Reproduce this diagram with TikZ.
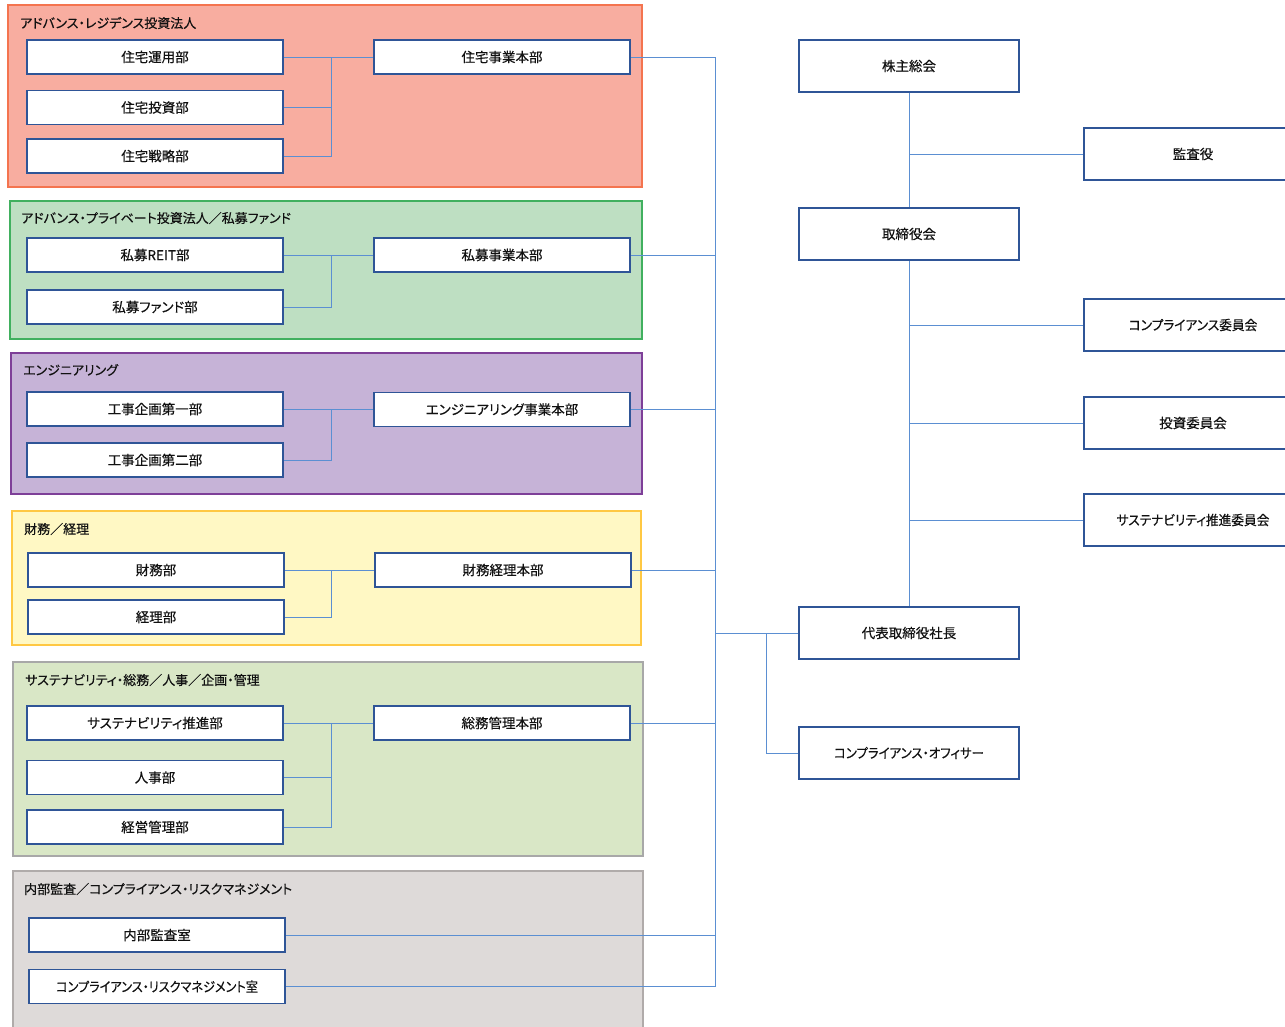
\documentclass[tikz,border=0pt]{standalone}
\usepackage{fontspec}
\setmainfont{Noto Sans CJK JP}[RawFeature={+palt}, FakeBold=0.35]
\definecolor{txt}{HTML}{111111}
\definecolor{bxline}{HTML}{2F5597}
\definecolor{conn}{HTML}{5B8FD2}
\definecolor{redF}{HTML}{F8ADA0}\definecolor{redD}{HTML}{F4744F}
\definecolor{grnF}{HTML}{BEDFC2}\definecolor{grnD}{HTML}{41B05F}
\definecolor{purF}{HTML}{C6B3D7}\definecolor{purD}{HTML}{7E3F98}
\definecolor{yelF}{HTML}{FFF8C4}\definecolor{yelD}{HTML}{FFC843}
\definecolor{lgrF}{HTML}{D9E7C6}\definecolor{lgrD}{HTML}{A8A8A8}
\definecolor{gryF}{HTML}{DEDAD9}\definecolor{gryD}{HTML}{B0ABAA}
\tikzset{
  ubox/.style={draw=bxline, line width=1.6pt, fill=white, inner sep=0pt,
    minimum width=256pt, minimum height=34pt, font=\fontsize{13.5}{15}\selectfont, text=txt},
  rbox/.style={draw=bxline, line width=1.6pt, fill=white, inner sep=0pt,
    minimum width=220pt, minimum height=52pt, font=\fontsize{13.5}{15}\selectfont, text=txt},
  kbox/.style={rbox, minimum width=218pt},
  grp/.style={line width=1.5pt},
  gtitle/.style={anchor=west, inner sep=0pt, font=\fontsize{13}{15}\selectfont, text=txt},
  cline/.style={draw=conn, line width=1pt},
}
\begin{document}
\begin{tikzpicture}[x=1pt,y=-1pt]
\useasboundingbox (0,0) rectangle (1285,1026);
\fill[white] (0,0) rectangle (1285,1026);
% group backgrounds
\draw[grp, fill=redF, draw=redD] (8,5) rectangle (642,187);
\draw[grp, fill=grnF, draw=grnD] (10,201) rectangle (642,339);
\draw[grp, fill=purF, draw=purD] (11,353) rectangle (642,494);
\draw[grp, fill=yelF, draw=yelD] (12,511) rectangle (641,645);
\draw[grp, fill=lgrF, draw=lgrD] (13,662) rectangle (643,856);
\draw[grp, fill=gryF, draw=gryD] (13,871) rectangle (643,1040);
% titles
\node[gtitle] (g1) at (20,23) {アドバンス・レジデンス投資法人};
\node[gtitle] (g2) at (21,218) {アドバンス・プライベート投資法人／私募ファンド};
\node[gtitle] (g3) at (23,370) {エンジニアリング};
\node[gtitle] (g4) at (24,529) {財務／経理};
\node[gtitle] (g5) at (25,680) {サステナビリティ・総務／人事／企画・管理};
\node[gtitle] (g6) at (24,889) {内部監査／コンプライアンス・リスクマネジメント};
% trunk coordinates
\coordinate (trunk) at (715,0);
\coordinate (bx) at (331,0);
\coordinate (cob) at (766,0);
% group 1
\node[ubox] (a1) at (155,57) {住宅運用部};
\node[ubox] (a2) at (155,107.5) {住宅投資部};
\node[ubox] (a3) at (155,156) {住宅戦略部};
\node[ubox] (ah) at (502,57) {住宅事業本部};
% group 2
\node[ubox] (b1) at (155,255) {私募REIT部};
\node[ubox] (b2) at (155,307) {私募ファンド部};
\node[ubox] (bh) at (502,255) {私募事業本部};
% group 3
\node[ubox] (c1) at (155,409) {工事企画第一部};
\node[ubox] (c2) at (155,460) {工事企画第二部};
\node[ubox] (ch) at (502,409.5) {エンジニアリング事業本部};
% group 4
\node[ubox] (d1) at (156,570) {財務部};
\node[ubox] (d2) at (156,617) {経理部};
\node[ubox] (dh) at (503,570) {財務経理本部};
% group 5
\node[ubox] (e1) at (155,723) {サステナビリティ推進部};
\node[ubox] (e2) at (155,777.5) {人事部};
\node[ubox] (e3) at (155,827) {経営管理部};
\node[ubox] (eh) at (502,723) {総務管理本部};
% group 6
\node[ubox] (f1) at (157,935) {内部監査室};
\node[ubox] (f2) at (157,986.5) {\addfontfeature{FakeStretch=0.9}コンプライアンス・リスクマネジメント室};
% right column
\node[rbox] (gm) at (909,66) {株主総会};
\node[rbox] (bd) at (909,234) {取締役会};
\node[rbox] (ceo) at (909,633) {代表取締役社長};
\node[rbox] (co) at (909,753) {\addfontfeature{FakeStretch=0.92}コンプライアンス・オフィサー};
\node[kbox] (ks) at (1193,154) {監査役};
\node[kbox] (k1) at (1193,325) {\addfontfeature{FakeStretch=0.94}コンプライアンス委員会};
\node[kbox] (k2) at (1193,423) {投資委員会};
\node[kbox] (k3) at (1193,520) {\addfontfeature{FakeStretch=0.94}サステナビリティ推進委員会};
% group connectors
\draw[cline] (ah.west) -- (ah.west -| bx) |- (a3.east);
\draw[cline] (a1.east) -- (a1.east -| bx);
\draw[cline] (a2.east) -- (a2.east -| bx);
\draw[cline] (bh.west) -- (bh.west -| bx) |- (b2.east);
\draw[cline] (b1.east) -- (b1.east -| bx);
\draw[cline] (ch.west) -- (ch.west -| bx) |- (c2.east);
\draw[cline] (c1.east) -- (c1.east -| bx);
\draw[cline] (dh.west) -- (dh.west -| bx) |- (d2.east);
\draw[cline] (d1.east) -- (d1.east -| bx);
\draw[cline] (eh.west) -- (eh.west -| bx) |- (e3.east);
\draw[cline] (e1.east) -- (e1.east -| bx);
\draw[cline] (e2.east) -- (e2.east -| bx);
% trunk
\draw[cline] (ah.east -| trunk) -- (f2.east -| trunk);
\draw[cline] (ah.east) -- (ah.east -| trunk);
\draw[cline] (bh.east) -- (bh.east -| trunk);
\draw[cline] (ch.east) -- (ch.east -| trunk);
\draw[cline] (dh.east) -- (dh.east -| trunk);
\draw[cline] (eh.east) -- (eh.east -| trunk);
\draw[cline] (f1.east) -- (f1.east -| trunk);
\draw[cline] (f2.east) -- (f2.east -| trunk);
\draw[cline] (ceo.west -| trunk) -- (ceo.west);
\draw[cline] (ceo.west -| cob) |- (co.west);
% right connectors
\draw[cline] (gm.south) -- (bd.north);
\draw[cline] (bd.south) -- (ceo.north);
\draw[cline] (ks.west) -- (ks.west -| gm.south);
\draw[cline] (k1.west) -- (k1.west -| bd.south);
\draw[cline] (k2.west) -- (k2.west -| bd.south);
\draw[cline] (k3.west) -- (k3.west -| bd.south);
\end{tikzpicture}
\end{document}
